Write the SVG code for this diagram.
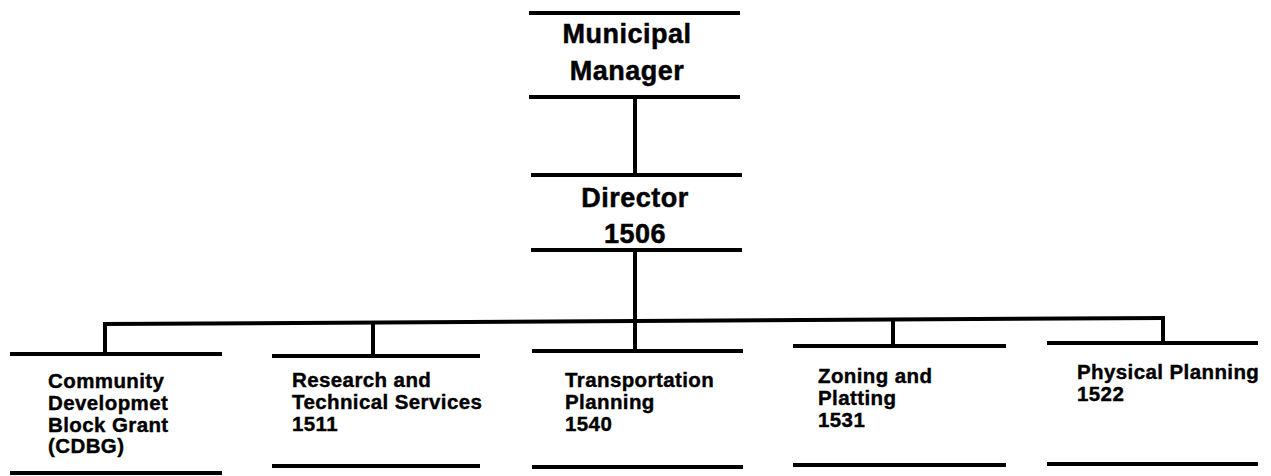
<svg xmlns="http://www.w3.org/2000/svg" width="1271" height="476" viewBox="0 0 1271 476">
<style>
.bar{stroke:#000;stroke-width:4;fill:none;stroke-linecap:butt}
.con{stroke:#000;stroke-width:4;fill:none}
.top{font-family:"Liberation Sans",Arial,sans-serif;font-weight:bold;font-size:27px;letter-spacing:0.5px;fill:#000;stroke:#000;stroke-width:0.5;text-anchor:middle}
.lbl{font-family:"Liberation Sans",Arial,sans-serif;font-weight:bold;font-size:20.5px;letter-spacing:0.4px;fill:#000;stroke:#000;stroke-width:0.4}
</style>
<rect width="1271" height="476" fill="#fff"/>
<g id="connectors">
<line class="con" x1="635" y1="97" x2="635" y2="175"/>
<line class="con" x1="635" y1="250" x2="635" y2="321"/>
<line class="con" x1="103" y1="324" x2="1165" y2="318"/>
<line class="con" x1="105" y1="324" x2="105" y2="354"/>
<line class="con" x1="373" y1="322.5" x2="373" y2="356"/>
<line class="con" x1="635" y1="321" x2="635" y2="351"/>
<line class="con" x1="893" y1="319.5" x2="893" y2="346"/>
<line class="con" x1="1163" y1="318" x2="1163" y2="343"/>
</g>
<g id="manager">
<line class="bar" x1="529" y1="13" x2="740" y2="13"/>
<line class="bar" x1="529" y1="97" x2="740" y2="97"/>
<text class="top" x="627" y="43">Municipal</text>
<text class="top" x="627" y="80">Manager</text>
</g>
<g id="director">
<line class="bar" x1="531" y1="175" x2="742" y2="175"/>
<line class="bar" x1="531" y1="250" x2="742" y2="250"/>
<text class="top" x="635" y="207">Director</text>
<text class="top" x="635" y="243">1506</text>
</g>
<g id="cdbg">
<line class="bar" x1="10" y1="354" x2="222" y2="354"/>
<line class="bar" x1="10" y1="473" x2="222" y2="473"/>
<text class="lbl" x="48" y="388">Community</text>
<text class="lbl" x="48" y="410">Developmet</text>
<text class="lbl" x="48" y="432">Block Grant</text>
<text class="lbl" x="48" y="453">(CDBG)</text>
</g>
<g id="research">
<line class="bar" x1="272" y1="356" x2="480" y2="356"/>
<line class="bar" x1="272" y1="466" x2="480" y2="466"/>
<text class="lbl" x="292" y="387">Research and</text>
<text class="lbl" x="292" y="409">Technical Services</text>
<text class="lbl" x="292" y="431">1511</text>
</g>
<g id="transportation">
<line class="bar" x1="532" y1="351" x2="743" y2="351"/>
<line class="bar" x1="532" y1="467" x2="743" y2="467"/>
<text class="lbl" x="565" y="387">Transportation</text>
<text class="lbl" x="565" y="409">Planning</text>
<text class="lbl" x="565" y="431">1540</text>
</g>
<g id="zoning">
<line class="bar" x1="793" y1="346" x2="1006" y2="346"/>
<line class="bar" x1="793" y1="465" x2="1006" y2="465"/>
<text class="lbl" x="818" y="383">Zoning and</text>
<text class="lbl" x="818" y="405">Platting</text>
<text class="lbl" x="818" y="427">1531</text>
</g>
<g id="physical">
<line class="bar" x1="1047" y1="343" x2="1258" y2="343"/>
<line class="bar" x1="1047" y1="464" x2="1258" y2="464"/>
<text class="lbl" x="1077" y="379">Physical Planning</text>
<text class="lbl" x="1077" y="401">1522</text>
</g>
</svg>
